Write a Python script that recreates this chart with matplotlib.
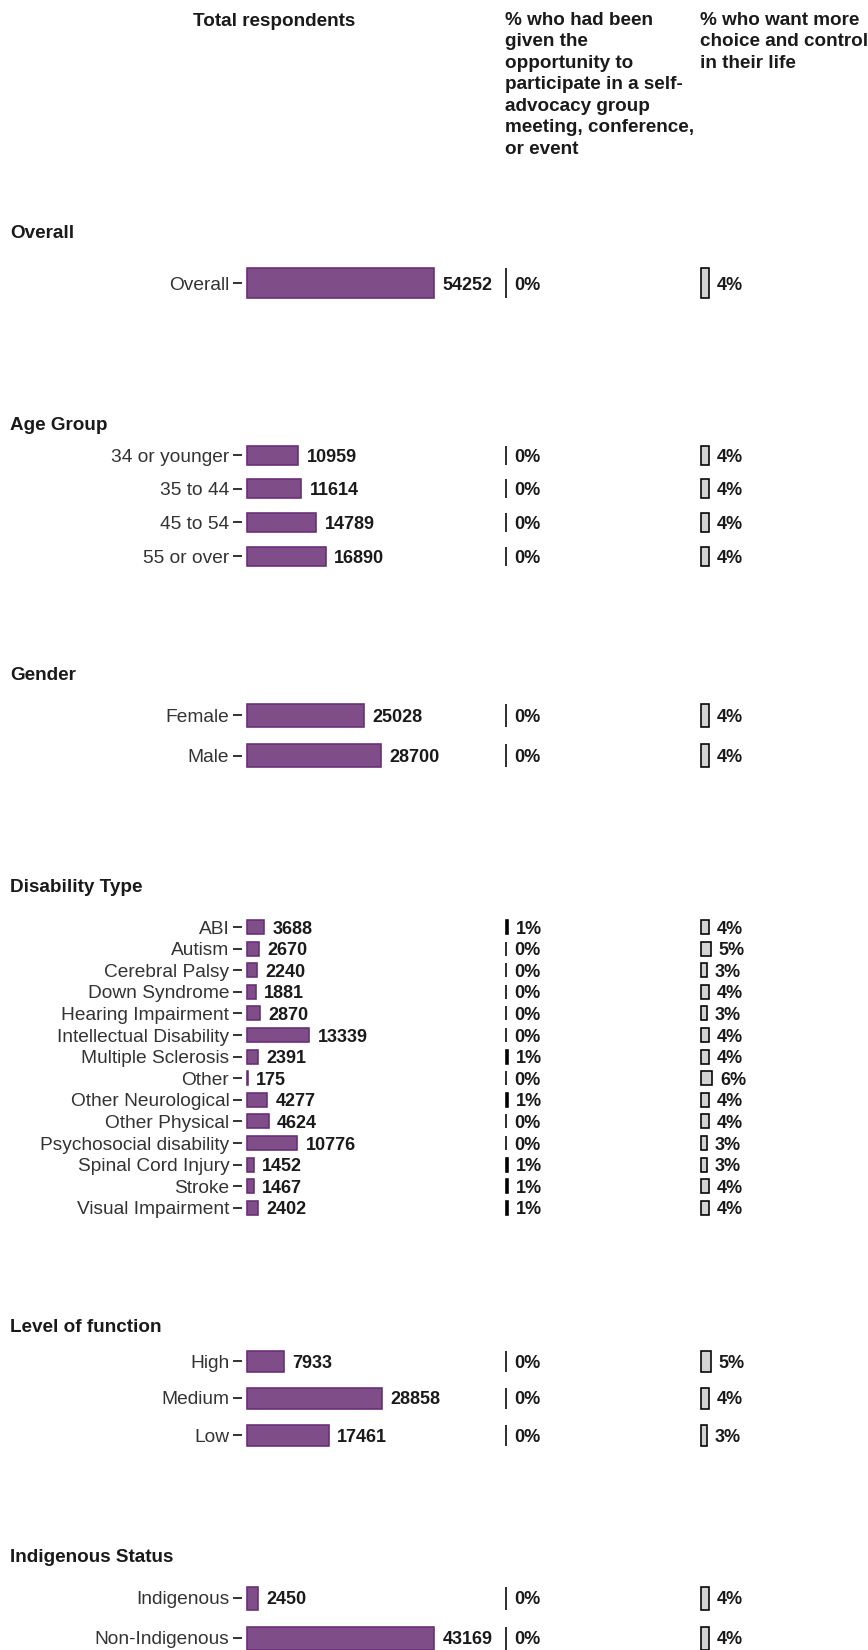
import matplotlib
matplotlib.use("Agg")
import matplotlib.pyplot as plt
import numpy as np

plt.rcParams['font.family'] = ['Liberation Sans', 'DejaVu Sans']

# ---------------- data ----------------
header_total = "Total respondents"
header_col2 = "% who had been\ngiven the\nopportunity to\nparticipate in a self-\nadvocacy group\nmeeting, conference,\nor event"
header_col3 = "% who want more\nchoice and control\nin their life"

section_titles = ["Overall", "Age Group", "Gender", "Disability Type",
                  "Level of function", "Indigenous Status"]

overall_labels = ["Overall"]
overall_n = [54252]
overall_p2 = [0]
overall_p3 = [4]

age_labels = ["34 or younger", "35 to 44", "45 to 54", "55 or over"]
age_n = [10959, 11614, 14789, 16890]
age_p2 = [0, 0, 0, 0]
age_p3 = [4, 4, 4, 4]

gender_labels = ["Female", "Male"]
gender_n = [25028, 28700]
gender_p2 = [0, 0]
gender_p3 = [4, 4]

dis_labels = ["ABI", "Autism", "Cerebral Palsy", "Down Syndrome",
              "Hearing Impairment", "Intellectual Disability",
              "Multiple Sclerosis", "Other", "Other Neurological",
              "Other Physical", "Psychosocial disability",
              "Spinal Cord Injury", "Stroke", "Visual Impairment"]
dis_n = [3688, 2670, 2240, 1881, 2870, 13339, 2391, 175, 4277, 4624,
         10776, 1452, 1467, 2402]
dis_p2 = [1, 0, 0, 0, 0, 0, 1, 0, 1, 0, 0, 1, 1, 1]
dis_p3 = [4, 5, 3, 4, 3, 4, 4, 6, 4, 4, 3, 3, 4, 4]

lof_labels = ["High", "Medium", "Low"]
lof_n = [7933, 28858, 17461]
lof_p2 = [0, 0, 0]
lof_p3 = [5, 4, 3]

ind_labels = ["Indigenous", "Non-Indigenous"]
ind_n = [2450, 43169]
ind_p2 = [0, 0]
ind_p3 = [4, 4]

n_axis_max = 40000  # count scale upper limit (longer bars are squished)

sections = [
    (overall_labels, overall_n, overall_p2, overall_p3),
    (age_labels, age_n, age_p2, age_p3),
    (gender_labels, gender_n, gender_p2, gender_p3),
    (dis_labels, dis_n, dis_p2, dis_p3),
    (lof_labels, lof_n, lof_p2, lof_p3),
    (ind_labels, ind_n, ind_p2, ind_p3),
]

# ---------------- layout (pixels) ----------------
W, H = 868, 1650
DPI = 100
title_y = [233, 426, 675, 888, 1328, 1558]
first_row = [283, 455, 715, 927, 1361, 1598]
row_step = [40, 33.7, 40.5, 21.6, 37, 40]
bar_px = [30, 19, 23, 14, 21, 23]

c1_axis_left = 242
c1_zero_px = 5
c1_bar_full = 187          # px for n_axis_max
c1_width = 245
c2_left = 505
c3_left = 700
pct_px = 1.9
c23_width = 150

purple = "#7f4e88"
purple_edge = "#6a2a78"
grey_fill = "#d3d3d3"
txt = "#1a1a1a"
tick_col = "#333333"

fig = plt.figure(figsize=(W / DPI, H / DPI), dpi=DPI)


def fx(px):
    return px / W


def fy(py):
    return 1 - py / H


FS_HEAD = 13.6
FS_TICK = 13.8
FS_VAL = 13

# headers
fig.text(fx(274), fy(21), header_total, ha="center", va="center",
         fontsize=FS_HEAD, fontweight="bold", color=txt)
fig.text(fx(505), fy(12), header_col2, ha="left", va="top",
         fontsize=FS_HEAD, fontweight="bold", color=txt, linespacing=1.34)
fig.text(fx(700), fy(12), header_col3, ha="left", va="top",
         fontsize=FS_HEAD, fontweight="bold", color=txt, linespacing=1.34)

lw_pt = 1.6 * 72 / DPI

for si, (labels, nvals, p2, p3) in enumerate(sections):
    n = len(labels)
    step = row_step[si]
    top = first_row[si] - step / 2
    bottom = first_row[si] + (n - 1) * step + step / 2
    hgt = bar_px[si] / step
    ypos = np.arange(n)

    fig.text(fx(10), fy(title_y[si]), section_titles[si], ha="left",
             va="center", fontsize=FS_HEAD, fontweight="bold", color=txt)

    # column 1: counts
    k1 = c1_bar_full / n_axis_max
    ax1 = fig.add_axes([fx(c1_axis_left), fy(bottom),
                        c1_width / W, (bottom - top) / H])
    shown = np.minimum(np.array(nvals), n_axis_max)
    ax1.barh(ypos, shown, height=hgt, color=purple, edgecolor=purple_edge,
             linewidth=lw_pt)
    ax1.set_xlim(-c1_zero_px / k1, (c1_width - c1_zero_px) / k1)
    ax1.set_ylim(n - 0.5, -0.5)
    ax1.set_yticks(ypos)
    ax1.set_yticklabels(labels, fontsize=FS_TICK, color=tick_col)
    ax1.tick_params(axis="y", length=6.3, width=1.4, color=tick_col, pad=2.8)
    ax1.set_xticks([])
    for s in ax1.spines.values():
        s.set_visible(False)
    ax1.patch.set_alpha(0)
    for y, v, vs in zip(ypos, nvals, shown):
        ax1.annotate(f"{v}", (vs, y), xytext=(6, 0),
                     textcoords="offset points", ha="left",
                     va="center_baseline",
                     fontsize=FS_VAL, fontweight="bold", color=txt)

    # columns 2 and 3: percentages
    for left, vals, fill in ((c2_left, p2, "black"), (c3_left, p3, grey_fill)):
        ax = fig.add_axes([fx(left), fy(bottom),
                           c23_width / W, (bottom - top) / H])
        ax.barh(ypos, vals, height=hgt, color=fill, edgecolor="black",
                linewidth=lw_pt)
        ax.set_xlim(-1 / pct_px, (c23_width - 1) / pct_px)
        ax.set_ylim(n - 0.5, -0.5)
        ax.set_xticks([])
        ax.set_yticks([])
        for s in ax.spines.values():
            s.set_visible(False)
        ax.patch.set_alpha(0)
        for y, v in zip(ypos, vals):
            ax.annotate(f"{v}%", (v, y), xytext=(6, 0),
                        textcoords="offset points", ha="left",
                        va="center_baseline",
                        fontsize=FS_VAL, fontweight="bold", color=txt)

fig.savefig("out.png", dpi=DPI)
